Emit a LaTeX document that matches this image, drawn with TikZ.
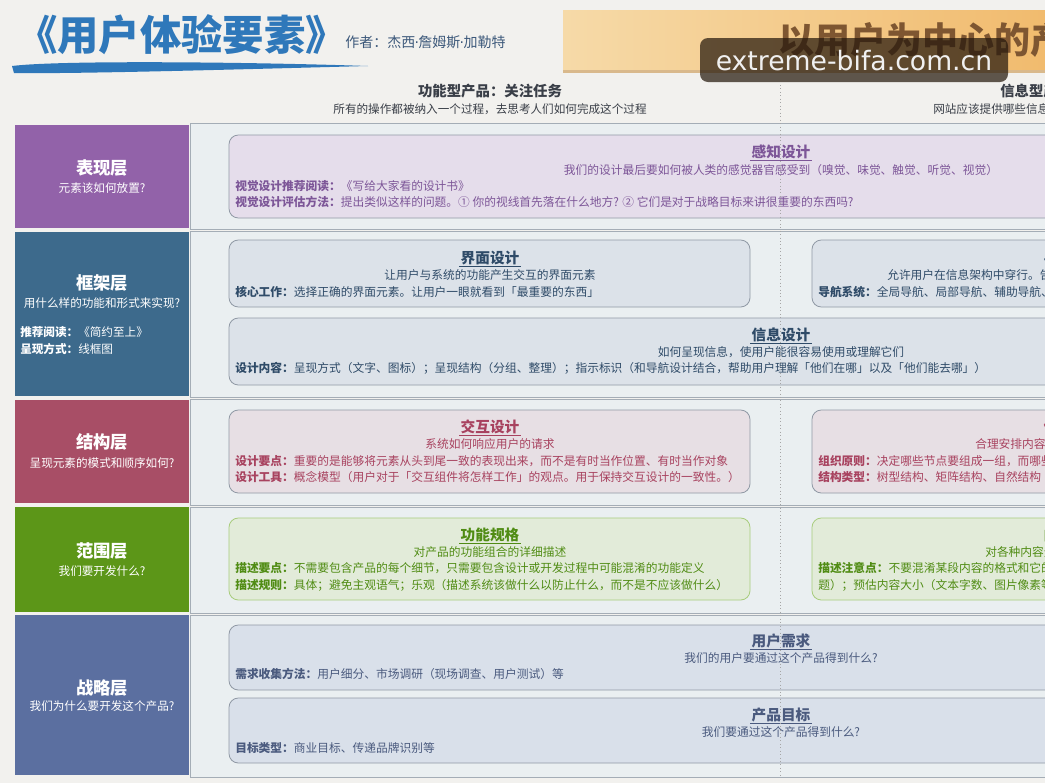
\documentclass[tikz,border=0pt]{standalone}
\usepackage{fontspec}
\setmainfont{Noto Sans CJK SC}
\newfontfamily\wmfont{DejaVu Sans}
\usetikzlibrary{positioning}

\definecolor{bg}{HTML}{F2F1EE}
\definecolor{titleblue}{HTML}{2F78BA}
\definecolor{authorc}{HTML}{3C587A}
\definecolor{bannerl}{HTML}{F6DAA8}
\definecolor{bannerr}{HTML}{F1BB6E}
\definecolor{bannersh}{HTML}{D9B98C}
\definecolor{bannertext}{HTML}{7E5631}
\definecolor{headc}{HTML}{3A3F48}
\definecolor{bandfill}{HTML}{EAEFF1}
\definecolor{bandline}{HTML}{A4ADB6}
\definecolor{presc}{HTML}{9262A9}
\definecolor{framec}{HTML}{3D6A8C}
\definecolor{strucc}{HTML}{A84E66}
\definecolor{scopec}{HTML}{5C9618}
\definecolor{stratc}{HTML}{5B6FA0}
\definecolor{percfill}{HTML}{E5DDEB}
\definecolor{perctext}{HTML}{7D5698}
\definecolor{ifacefill}{HTML}{DCE2E9}
\definecolor{ifacetext}{HTML}{2F4B68}
\definecolor{interfill}{HTML}{E7DFE4}
\definecolor{intertext}{HTML}{A8425F}
\definecolor{funcfill}{HTML}{E2EBD9}
\definecolor{funcline}{HTML}{A8CC7C}
\definecolor{functext}{HTML}{508C14}
\definecolor{needfill}{HTML}{D9E0EA}
\definecolor{needtext}{HTML}{4A5A7E}
\definecolor{cardline}{HTML}{9099A5}

\newcommand{\middot}{{\wmfont\kern-0.5pt·\kern-0.5pt}}

\tikzstyle{layertitle} = [text=white, font=\fontsize{13}{15}\selectfont\bfseries, inner sep=0pt]
\tikzstyle{layersub} = [text=white, font=\fontsize{8.7}{10}\selectfont, inner sep=0pt]
\tikzstyle{cardtitle} = [font=\fontsize{11}{13}\selectfont\bfseries, inner sep=1pt]
\tikzstyle{cardsub} = [font=\fontsize{8.8}{10}\selectfont, inner sep=0pt]
\tikzstyle{cardtxt} = [font=\fontsize{8.8}{10}\selectfont, inner sep=0pt, anchor=west]
\tikzstyle{card} = [rounded corners=7pt, line width=0.6pt, draw=cardline]
\tikzstyle{band} = [fill=bandfill, draw=bandline, line width=0.6pt]
\tikzstyle{uline} = [line width=0.6pt]

\begin{document}
\begin{tikzpicture}[x=0.75pt, y=-0.75pt]
        \clip (0,0) rectangle (1045,783);
        \fill[bg] (0,0) rectangle (1045,783);

        % title and brush stroke
        \node[text=titleblue, font=\fontsize{31}{34}\selectfont\bfseries, inner sep=0pt, anchor=west] (title) at (16,35) {《用户体验要素》};
        \node[text=authorc, font=\fontsize{10.5}{12}\selectfont, inner sep=0pt, anchor=west] (author) at (345,42) {作者：杰西\middot 詹姆斯\middot 加勒特};
        \fill[titleblue] (12,66) .. controls (60,60) and (250,62) .. (368,66) .. controls (250,69) and (80,74) .. (14,73) -- cycle;

        % banner
        \fill[bannersh] (563,13) rectangle (1045,73);
        \shade[left color=bannerl, right color=bannerr] (563,10) rectangle (1045,69);
        \node[text=bannertext, font=\fontsize{27}{30}\selectfont\bfseries, inner sep=0pt, anchor=west] (banner) at (778,40) {以用户为中心的产品设计};

        % column heads
        \node[text=headc, font=\fontsize{10.8}{13}\selectfont\bfseries, inner sep=0pt] (funchead) at (490,91) {功能型产品：关注任务};
        \node[text=headc, font=\fontsize{8.7}{10}\selectfont, inner sep=0pt] (funcsub) at (490,109) {所有的操作都被纳入一个过程，去思考人们如何完成这个过程};
        \node[text=headc, font=\fontsize{10.8}{13}\selectfont\bfseries, inner sep=0pt, anchor=west] (infohead) at (1000,91) {信息型产品};
        \node[text=headc, font=\fontsize{8.7}{10}\selectfont, inner sep=0pt, anchor=west] (infosub) at (933,109) {网站应该提供哪些信息};

        % bands
        \draw[band] (190,123) rectangle (1100,229);
        \draw[band] (190,231) rectangle (1100,397);
        \draw[band] (190,399) rectangle (1100,505);
        \draw[band] (190,507) rectangle (1100,613);
        \draw[band] (190,615) rectangle (1100,777);

        % layers
        \fill[presc]  (15,125) rectangle (189,228);
        \fill[framec] (15,232) rectangle (189,396);
        \fill[strucc] (15,400) rectangle (189,503);
        \fill[scopec] (15,507) rectangle (189,612);
        \fill[stratc] (15,615) rectangle (189,775);

        \node[layertitle] (pres)   at (102,168) {表现层};
        \node[layersub]   (presq)  at (102,188) {元素该如何放置?};
        \node[layertitle] (frame)  at (102,283) {框架层};
        \node[layersub]   (frameq) at (102,303) {用什么样的功能和形式来实现?};
        \node[layersub, anchor=west] (framer) at (20,332) {\textbf{推荐阅读：}《简约至上》};
        \node[layersub, anchor=west] (framew) at (20,349) {\textbf{呈现方式：}线框图};
        \node[layertitle] (struc)  at (102,442) {结构层};
        \node[layersub]   (strucq) at (102,463) {呈现元素的模式和顺序如何?};
        \node[layertitle] (scope)  at (102,551) {范围层};
        \node[layersub]   (scopeq) at (102,571) {我们要开发什么?};
        \node[layertitle] (strat)  at (102,688) {战略层};
        \node[layersub]   (stratq) at (102,706) {我们为什么要开发这个产品?};

        % surface
        \draw[card, fill=percfill] (229,135) rectangle (1100,218);
        \node[cardtitle, text=perctext] (perct) at (781,152) {感知设计};
        \draw[uline, perctext] (perct.south west) -- (perct.south east);
        \node[cardsub, text=perctext] (percs) at (781,170) {我们的设计最后要如何被人类的感觉器官感受到（嗅觉、味觉、触觉、听觉、视觉）};
        \node[cardtxt, text=perctext] (percl1) at (235,186) {\textbf{视觉设计推荐阅读：}《写给大家看的设计书》};
        \node[cardtxt, text=perctext] (percl2) at (235,202) {\textbf{视觉设计评估方法：}提出类似这样的问题。① 你的视线首先落在什么地方? ② 它们是对于战略目标来讲很重要的东西吗?};

        % skeleton
        \draw[card, fill=ifacefill] (229,240) rectangle (750,307);
        \node[cardtitle, text=ifacetext] (ifacet) at (490,258) {界面设计};
        \draw[uline, ifacetext] (ifacet.south west) -- (ifacet.south east);
        \node[cardsub, text=ifacetext] (ifaces) at (490,275) {让用户与系统的功能产生交互的界面元素};
        \node[cardtxt, text=ifacetext] (ifacel1) at (235,292) {\textbf{核心工作：}选择正确的界面元素。让用户一眼就看到「最重要的东西」};

        \draw[card, fill=ifacefill] (812,240) rectangle (1100,307);
        \node[cardtitle, text=ifacetext, anchor=west] (navt) at (1042,258) {导航设计};
        \node[cardsub, text=ifacetext, anchor=west] (navs) at (887,275) {允许用户在信息架构中穿行。告};
        \node[cardtxt, text=ifacetext] (navl1) at (818,292) {\textbf{导航系统：}全局导航、局部导航、辅助导航、};

        \draw[card, fill=ifacefill] (229,318) rectangle (1100,385);
        \node[cardtitle, text=ifacetext] (infot) at (781,335) {信息设计};
        \draw[uline, ifacetext] (infot.south west) -- (infot.south east);
        \node[cardsub, text=ifacetext] (infos) at (781,352) {如何呈现信息，使用户能很容易使用或理解它们};
        \node[cardtxt, text=ifacetext] (infol1) at (235,368) {\textbf{设计内容：}呈现方式（文字、图标）；呈现结构（分组、整理）；指示标识（和导航设计结合，帮助用户理解「他们在哪」以及「他们能去哪」）};

        % structure
        \draw[card, fill=interfill] (229,410) rectangle (750,493);
        \node[cardtitle, text=intertext] (intert) at (490,427) {交互设计};
        \draw[uline, intertext] (intert.south west) -- (intert.south east);
        \node[cardsub, text=intertext] (inters) at (490,444) {系统如何响应用户的请求};
        \node[cardtxt, text=intertext] (interl1) at (235,461) {\textbf{设计要点：}重要的是能够将元素从头到尾一致的表现出来，而不是有时当作位置、有时当作对象};
        \node[cardtxt, text=intertext] (interl2) at (235,477) {\textbf{设计工具：}概念模型（用户对于「交互组件将怎样工作」的观点。用于保持交互设计的一致性。）};

        \draw[card, fill=interfill] (812,410) rectangle (1100,493);
        \node[cardtitle, text=intertext, anchor=west] (archt) at (1042,427) {信息架构};
        \node[cardsub, text=intertext, anchor=west] (archs) at (975,444) {合理安排内容元};
        \node[cardtxt, text=intertext] (archl1) at (818,461) {\textbf{组织原则：}决定哪些节点要组成一组，而哪些};
        \node[cardtxt, text=intertext] (archl2) at (818,477) {\textbf{结构类型：}树型结构、矩阵结构、自然结构};

        % scope
        \draw[card, draw=funcline, fill=funcfill] (229,518) rectangle (750,600);
        \node[cardtitle, text=functext] (funct) at (490,535) {功能规格};
        \draw[uline, functext] (funct.south west) -- (funct.south east);
        \node[cardsub, text=functext] (funcs) at (490,552) {对产品的功能组合的详细描述};
        \node[cardtxt, text=functext] (funcl1) at (235,568) {\textbf{描述要点：}不需要包含产品的每个细节，只需要包含设计或开发过程中可能混淆的功能定义};
        \node[cardtxt, text=functext] (funcl2) at (235,585) {\textbf{描述规则：}具体；避免主观语气；乐观（描述系统该做什么以防止什么，而不是不应该做什么）};

        \draw[card, draw=funcline, fill=funcfill] (812,518) rectangle (1100,600);
        \node[cardtitle, text=functext, anchor=west] (contt) at (1042,535) {内容需求};
        \node[cardsub, text=functext, anchor=west] (conts) at (985,552) {对各种内容元};
        \node[cardtxt, text=functext] (contl1) at (818,568) {\textbf{描述注意点：}不要混淆某段内容的格式和它的};
        \node[cardtxt, text=functext] (contl2) at (818,585) {题）；预估内容大小（文本字数、图片像素等};

        % strategy
        \draw[card, fill=needfill] (229,625) rectangle (1100,690);
        \node[cardtitle, text=needtext] (needt) at (781,641) {用户需求};
        \draw[uline, needtext] (needt.south west) -- (needt.south east);
        \node[cardsub, text=needtext] (needs) at (781,658) {我们的用户要通过这个产品得到什么?};
        \node[cardtxt, text=needtext] (needl1) at (235,674) {\textbf{需求收集方法：}用户细分、市场调研（现场调查、用户测试）等};

        \draw[card, fill=needfill] (229,698) rectangle (1100,763);
        \node[cardtitle, text=needtext] (goalt) at (781,715) {产品目标};
        \draw[uline, needtext] (goalt.south west) -- (goalt.south east);
        \node[cardsub, text=needtext] (goals) at (781,732) {我们要通过这个产品得到什么?};
        \node[cardtxt, text=needtext] (goall1) at (235,748) {\textbf{目标类型：}商业目标、传递品牌识别等};

        % divider between the two product kinds
        \coordinate (divtop) at (780,85);
        \coordinate (divbot) at (780,777);
        \draw[gray!70, dotted, line width=0.6pt] (divtop) -- (divbot);

        % watermark
        \fill[black!80!brown, opacity=0.72, rounded corners=6pt] (700,38) rectangle (1008,82);
        \node[text=white!94!black, font=\wmfont\fontsize{20}{22}\selectfont, inner sep=0pt] (mark) at (854,61) {extreme-bifa.com.cn};
\end{tikzpicture}
\end{document}
